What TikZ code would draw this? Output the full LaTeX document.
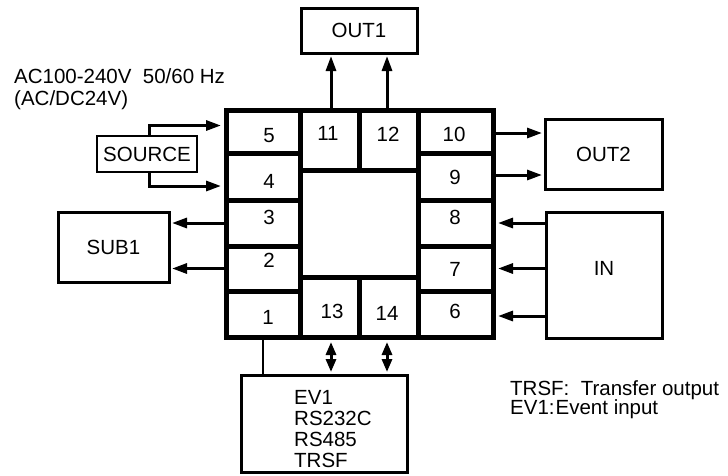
\documentclass[tikz,border=0pt]{standalone}
\usepackage{fontspec}
\setmainfont{Liberation Sans}
\usetikzlibrary{arrows.meta}
\begin{document}
\begin{tikzpicture}[x=1pt,y=-1pt,
  every node/.style={font=\fontsize{20.5}{21}\selectfont},
  cell/.style={draw, line width=5pt, inner sep=0pt},
  box/.style={draw, line width=3pt, inner sep=0pt},
  num/.style={inner sep=0pt},
  txt/.style={inner sep=0pt, anchor=base west},
  arr/.style={line width=3pt, -{Triangle[length=15pt,width=10pt]}},
  darr/.style={line width=3pt, {Triangle[length=13pt,width=10pt]}-{Triangle[length=13pt,width=10pt]}}
]
\useasboundingbox (0,0) rectangle (728,475);
% main block cells
\node[cell, minimum width=74pt, minimum height=43pt] (c5) at (263,131.5) {};
\node[cell, minimum width=74pt, minimum height=47pt] (c4) at (263,176.5) {};
\node[cell, minimum width=74pt, minimum height=46pt] (c3) at (263,223) {};
\node[cell, minimum width=74pt, minimum height=45pt] (c2) at (263,268.5) {};
\node[cell, minimum width=74pt, minimum height=46pt] (c1) at (263,314) {};
\node[cell, minimum width=75pt, minimum height=43pt] (c10) at (455.5,131.5) {};
\node[cell, minimum width=75pt, minimum height=47pt] (c9) at (455.5,176.5) {};
\node[cell, minimum width=75pt, minimum height=46pt] (c8) at (455.5,223) {};
\node[cell, minimum width=75pt, minimum height=45pt] (c7) at (455.5,268.5) {};
\node[cell, minimum width=75pt, minimum height=46pt] (c6) at (455.5,314) {};
\node[cell, minimum width=59pt, minimum height=60pt] (c11) at (329.5,140) {};
\node[cell, minimum width=59pt, minimum height=60pt] (c12) at (388.5,140) {};
\node[cell, minimum width=59pt, minimum height=60pt] (c13) at (329.5,307) {};
\node[cell, minimum width=59pt, minimum height=60pt] (c14) at (388.5,307) {};
% numbers
\node[num] (n5) at (269,136) {5};
\node[num] (n4) at (269,181) {4};
\node[num] (n3) at (269,217) {3};
\node[num] (n2) at (269,260) {2};
\node[num] (n1) at (268,317) {1};
\node[num] (n11) at (328,133) {11};
\node[num] (n12) at (388,134) {12};
\node[num] (n10) at (454,134) {10};
\node[num] (n9) at (455,177) {9};
\node[num] (n8) at (455,217) {8};
\node[num] (n7) at (455,269) {7};
\node[num] (n6) at (455,311) {6};
\node[num] (n13) at (332,311) {13};
\node[num] (n14) at (387,313) {14};
% outer boxes
\node[box, minimum width=116pt, minimum height=45pt] (out1) at (359,30.5) {OUT1};
\node[box, line width=2pt, minimum width=100pt, minimum height=36pt] (source) at (147,154) {SOURCE};
\node[box, minimum width=111pt, minimum height=70pt] (sub1) at (113.5,247) {SUB1};
\node[box, minimum width=117pt, minimum height=70pt] (out2) at (603.5,154) {OUT2};
\node[box, minimum width=116pt, minimum height=126pt] (in) at (604,275) {};
\node[num] (inlbl) at (604,268) {IN};
\node[box, minimum width=166pt, minimum height=97pt] (bot) at (324,423.5) {};
\node[inner sep=0pt, align=left, anchor=west] (bottxt) at (294,429.5) {EV1\\RS232C\\RS485\\TRSF};
% texts
\node[txt] (ac) at (14,83) {AC100-240V\ \ 50/60 Hz};
\node[txt] (acdc) at (14,105) {(AC/DC24V)};
\node[txt] (leg1) at (510,395) {TRSF:\ \ Transfer output};
\node[txt] (leg2) at (510,414) {EV1:\kern1pt Event input};
% connectors
\draw[arr, shorten >=1.5pt] ([xshift=1.5pt]c11.north) -- ([xshift=1.5pt]c11.north |- out1.south);
\draw[arr, shorten >=1.5pt] ([xshift=-1.5pt]c12.north) -- ([xshift=-1.5pt]c12.north |- out1.south);
\draw[arr, shorten >=2.5pt] ([xshift=2pt]source.north) |- ([yshift=6pt]c5.west);
\draw[arr, shorten >=2.5pt] ([xshift=2pt]source.south) |- ([yshift=-9.5pt]c4.west);
\draw[arr, shorten >=1.5pt] (c3.west) -- (c3.west -| sub1.east);
\draw[arr, shorten >=1.5pt] (c2.west) -- (c2.west -| sub1.east);
\draw[arr, shorten >=1.5pt] ([yshift=-1.5pt]c10.east) -- ([yshift=-1.5pt]c10.east -| out2.west);
\draw[arr, shorten >=1.5pt] ([yshift=1.5pt]c9.east) -- ([yshift=1.5pt]c9.east -| out2.west);
\draw[arr, shorten >=2.5pt] (c8.east -| in.west) -- (c8.east);
\draw[arr, shorten >=2.5pt] (c7.east -| in.west) -- (c7.east);
\draw[arr, shorten >=2.5pt] ([yshift=-2pt]c6.east -| in.west) -- ([yshift=-2pt]c6.east);
\draw[line width=2.8pt] (c1.south) -- (c1.south |- bot.north);
\draw[darr, shorten <=2.5pt, shorten >=1.5pt] ([xshift=1.5pt]c13.south) -- ([xshift=1.5pt]c13.south |- bot.north);
\draw[darr, shorten <=2.5pt, shorten >=1.5pt] ([xshift=-1.5pt]c14.south) -- ([xshift=-1.5pt]c14.south |- bot.north);
\end{tikzpicture}
\end{document}
